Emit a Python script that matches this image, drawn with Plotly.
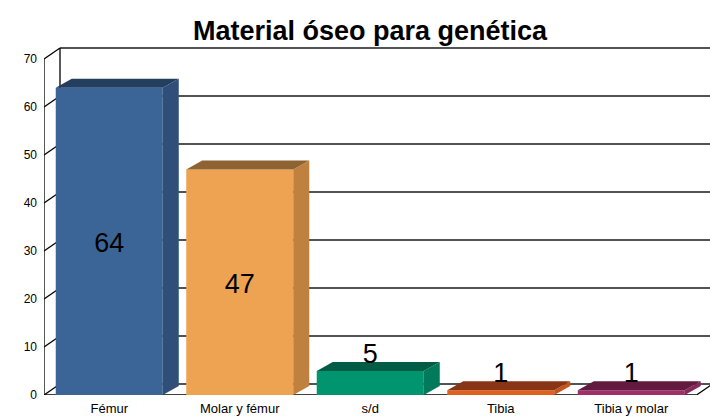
import plotly.graph_objects as go

categories = ["Fémur", "Molar y fémur", "s/d", "Tibia", "Tibia y molar"]
values = [64, 47, 5, 1, 1]
front_colors = ["#3C6597", "#EEA353", "#00946F", "#E0601E", "#9E2F69"]
side_colors = ["#2F4F79", "#C08040", "#007A5B", "#C8531A", "#86285A"]
top_colors = ["#243E60", "#8E6231", "#005C45", "#873514", "#621B3E"]
y_ticks = [0, 10, 20, 30, 40, 50, 60, 70]

# geometry (in axis units)
L, R_MARGIN, T, B = 44, 0, 40, 23
W, H = 710, 418
plot_w = W - L - R_MARGIN
plot_h = H - T - B
px_per_cat = 130.5
x_lo = -0.5
x_hi = x_lo + plot_w / px_per_cat
px_per_unit = 4.8
y_lo = 0
y_hi = plot_h / px_per_unit

wall_dx = 16 / px_per_cat
wall_dy = 11 / px_per_unit
bar_dx = 16 / px_per_cat
bar_dy = 9 / px_per_unit
bar_w = 0.82
y_max = max(y_ticks)
n = len(categories)

fig = go.Figure()

# front bars
fig.add_trace(go.Bar(
    x=list(range(n)), y=values, width=bar_w,
    marker=dict(color=front_colors, line=dict(width=0)),
    hoverinfo="skip", showlegend=False,
))

# 3D side and top faces
for i, v in enumerate(values):
    xl = i - bar_w / 2
    xr = i + bar_w / 2
    fig.add_trace(go.Scatter(
        x=[xr, xr + bar_dx, xr + bar_dx, xr, xr],
        y=[0, bar_dy, v + bar_dy, v, 0],
        fill="toself", fillcolor=side_colors[i], mode="lines",
        line=dict(width=0, color=side_colors[i]),
        hoverinfo="skip", showlegend=False,
    ))
    fig.add_trace(go.Scatter(
        x=[xl, xl + bar_dx, xr + bar_dx, xr, xl],
        y=[v, v + bar_dy, v + bar_dy, v, v],
        fill="toself", fillcolor=top_colors[i], mode="lines",
        line=dict(width=0, color=top_colors[i]),
        hoverinfo="skip", showlegend=False,
    ))

# data labels
big = [v for v in values if v >= 10]
fig.add_trace(go.Scatter(
    x=[i for i, v in enumerate(values) if v >= 10],
    y=[v / 2 - 0.8 for v in big],
    mode="text", text=[str(v) for v in big],
    textposition="middle center",
    textfont=dict(family="Liberation Sans, Arial", size=27, color="black"),
    hoverinfo="skip", showlegend=False,
))
small_idx = [i for i, v in enumerate(values) if v < 10]
fig.add_trace(go.Scatter(
    x=small_idx,
    y=[values[i] + 0.2 for i in small_idx],
    mode="text", text=[str(values[i]) for i in small_idx],
    textposition="top center",
    textfont=dict(family="Liberation Sans, Arial", size=27, color="black"),
    hoverinfo="skip", showlegend=False,
))

# walls, gridlines, axes (shapes below traces)
shapes = []
grid = dict(color="#1a1a1a", width=1.6)
xb = x_lo + wall_dx
for t in y_ticks:
    shapes.append(dict(type="line", xref="x", yref="y", layer="below",
                       x0=xb, x1=x_hi + 1, y0=t + wall_dy, y1=t + wall_dy, line=grid))
    shapes.append(dict(type="line", xref="x", yref="y", layer="below",
                       x0=x_lo, x1=xb, y0=t, y1=t + wall_dy,
                       line=dict(color="black", width=1.3)))
shapes.append(dict(type="line", xref="x", yref="y", layer="below",
                   x0=xb, x1=xb, y0=wall_dy, y1=y_max + wall_dy,
                   line=dict(color="black", width=1.3)))
shapes.append(dict(type="line", xref="x", yref="y", layer="below",
                   x0=x_lo, x1=x_lo, y0=0, y1=y_max,
                   line=dict(color="black", width=1.3)))
x_end = n - 0.5
shapes.append(dict(type="line", xref="x", yref="y", layer="below",
                   x0=x_lo, x1=x_end, y0=0, y1=0,
                   line=dict(color="black", width=1.5)))
shapes.append(dict(type="line", xref="x", yref="y", layer="below",
                   x0=x_end, x1=x_end + wall_dx, y0=0, y1=wall_dy,
                   line=dict(color="black", width=1.3)))

fig.update_layout(
    width=W, height=H,
    margin=dict(l=L, r=R_MARGIN, t=T, b=B, autoexpand=False),
    paper_bgcolor="white", plot_bgcolor="white",
    shapes=shapes,
    title=dict(text="<b>Material óseo para genética</b>",
               x=370 / W, xref="container", xanchor="center",
               y=1 - 31 / H, yref="container", yanchor="middle",
               font=dict(family="Liberation Sans, Arial", size=27, color="black")),
    xaxis=dict(range=[x_lo, x_hi], tickvals=list(range(n)), ticktext=categories,
               showgrid=False, zeroline=False, showline=False, ticks="",
               automargin=False,
               tickfont=dict(family="Liberation Sans, Arial", size=13, color="black"),
               ticklabelstandoff=4),
    yaxis=dict(range=[y_lo, y_hi], tickvals=y_ticks, ticktext=[str(t) for t in y_ticks],
               showgrid=False, zeroline=False, showline=False, ticks="",
               automargin=False,
               tickfont=dict(family="Liberation Sans, Arial", size=12, color="black"),
               ticklabelstandoff=6),
    showlegend=False,
)
fig.write_html("out.html",
               config={"displayModeBar": False},
               post_script="document.body.style.margin='0';document.body.style.overflow='hidden';")
